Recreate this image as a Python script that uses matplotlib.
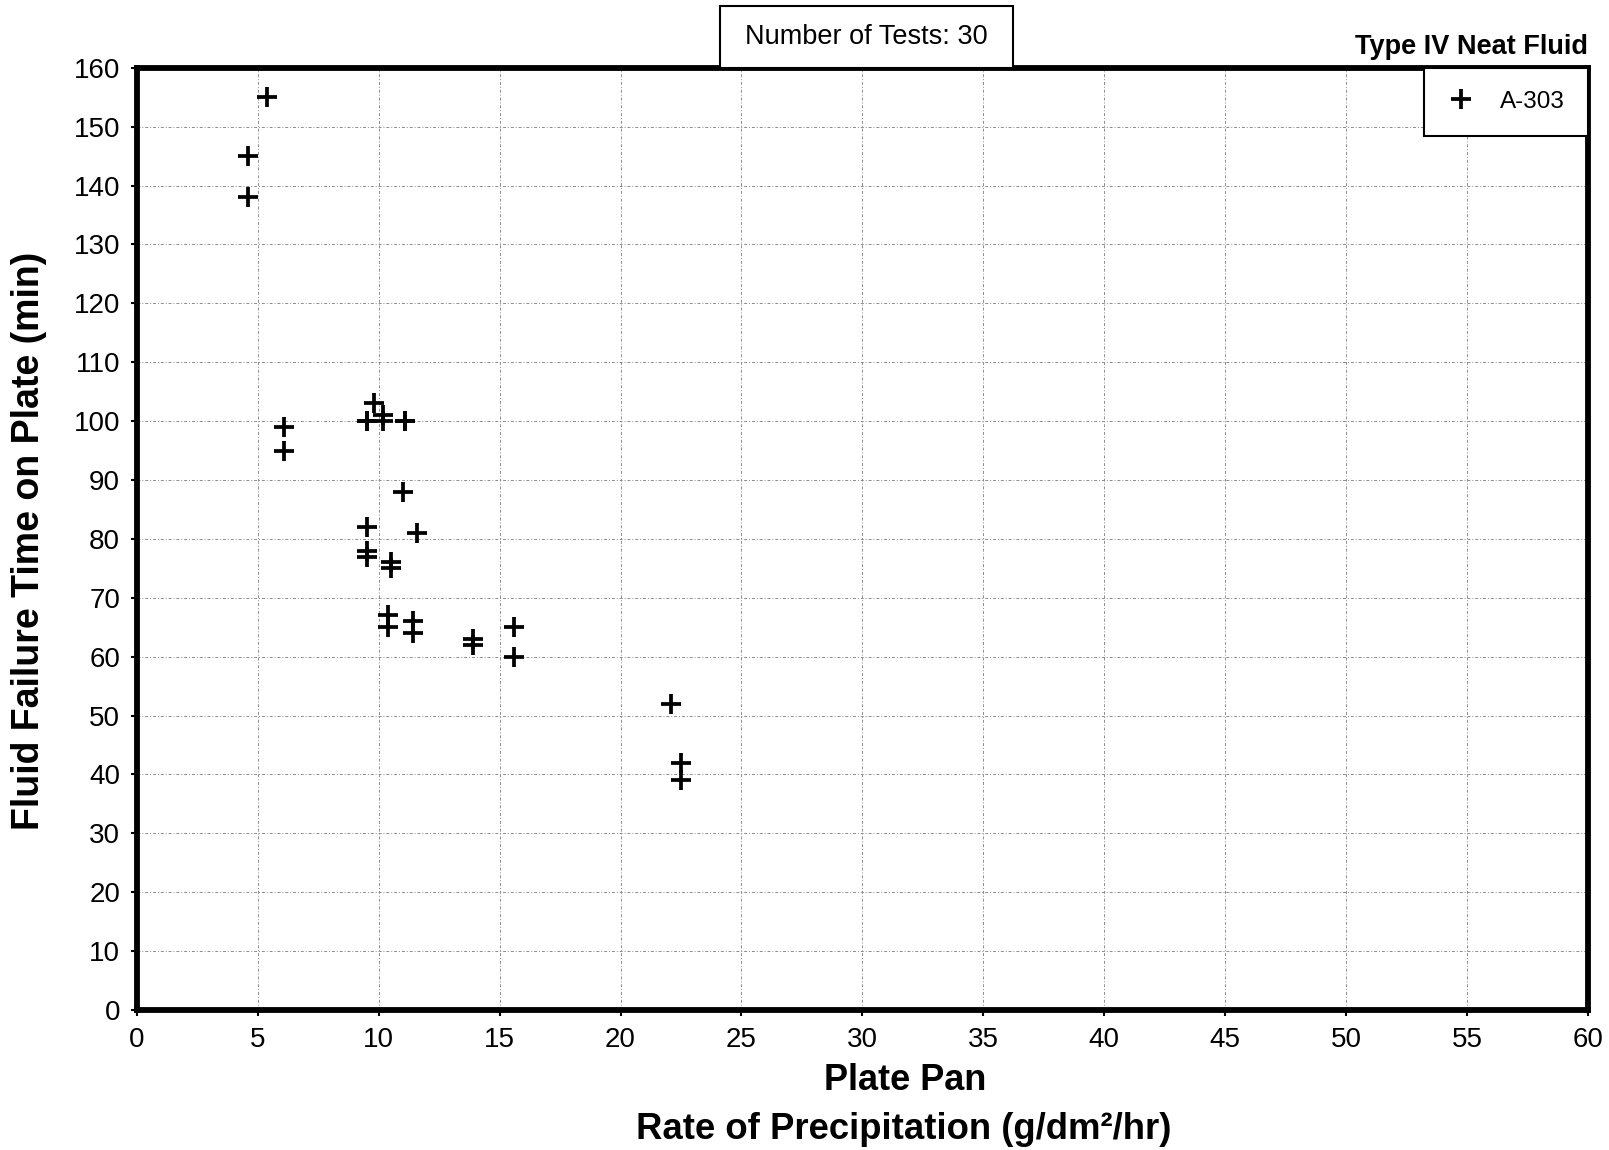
import matplotlib.pyplot as plt
from matplotlib.patches import Rectangle

plt.rcParams['font.family'] = ['Liberation Sans', 'DejaVu Sans']

# A-303 neat fluid tests: precipitation rate (g/dm2/hr) vs failure time (min)
rate = [5.4, 4.6, 4.6, 6.1, 6.1,
        9.8, 9.5, 10.2, 10.2, 11.1, 9.5, 11.1,
        11.0, 9.5, 11.6, 9.5, 9.5, 10.5, 10.5,
        10.4, 10.4, 11.4, 11.4,
        13.9, 13.9, 15.6, 15.6,
        22.1, 22.5, 22.5]
fail_time = [155, 145, 138, 99, 95,
             103, 100, 101, 100, 100, 100, 100,
             88, 82, 81, 78, 77, 76, 75,
             67, 65, 66, 64,
             63, 62, 65, 60,
             52, 42, 39]
series_name = 'A-303'
n_tests = len(rate)

xticks = list(range(0, 61, 5))
yticks = list(range(0, 161, 10))

fig = plt.figure(figsize=(16.09, 11.5), dpi=100)
ax = fig.add_axes([0.085, 0.1217, 0.902, 0.8194])

ax.plot(rate, fail_time, linestyle='none', marker='+', color='black',
        markersize=15, markeredgewidth=2.7, label=series_name)

ax.set_xlim(0, 60)
ax.set_ylim(0, 160)
ax.set_xticks(xticks)
ax.set_yticks(yticks)
ax.tick_params(labelsize=20, length=4, width=1.5, direction='out', pad=8)
ax.grid(True, color='0.55', linestyle=(0, (3, 2, 1, 2)), linewidth=0.7)
ax.set_axisbelow(True)
for s in ax.spines.values():
    s.set_linewidth(4.2)

leg = ax.legend(loc='upper right', borderaxespad=0, fontsize=17.5, fancybox=False,
                edgecolor='black', framealpha=1, handlelength=1.2, handletextpad=1.0,
                borderpad=0.95)
leg.get_frame().set_linewidth(1.5)

# labels
fig.text(0.018, 0.5296, 'Fluid Failure Time on Plate (min)', rotation=90,
         ha='center', va='center', fontsize=27, fontweight='bold')
fig.text(0.5625, 0.060, 'Plate Pan', ha='center', va='center',
         fontsize=26, fontweight='bold')
fig.text(0.5618, 0.018, 'Rate of Precipitation (g/dm²/hr)', ha='center', va='center',
         fontsize=26.3, fontweight='bold')

fig.text(0.987, 0.959, 'Type IV Neat Fluid', ha='right', va='center',
         fontsize=19.5, fontweight='bold')

fig.patches.append(Rectangle((720 / 1609, 1 - 68 / 1150), 293 / 1609, 62 / 1150,
                             transform=fig.transFigure, facecolor='white',
                             edgecolor='black', linewidth=1.5, zorder=5))
fig.text(866 / 1609, 1 - 37 / 1150, 'Number of Tests: %d' % n_tests,
         ha='center', va='center', fontsize=19.5, zorder=6)

fig.savefig('out.png', dpi=100)
